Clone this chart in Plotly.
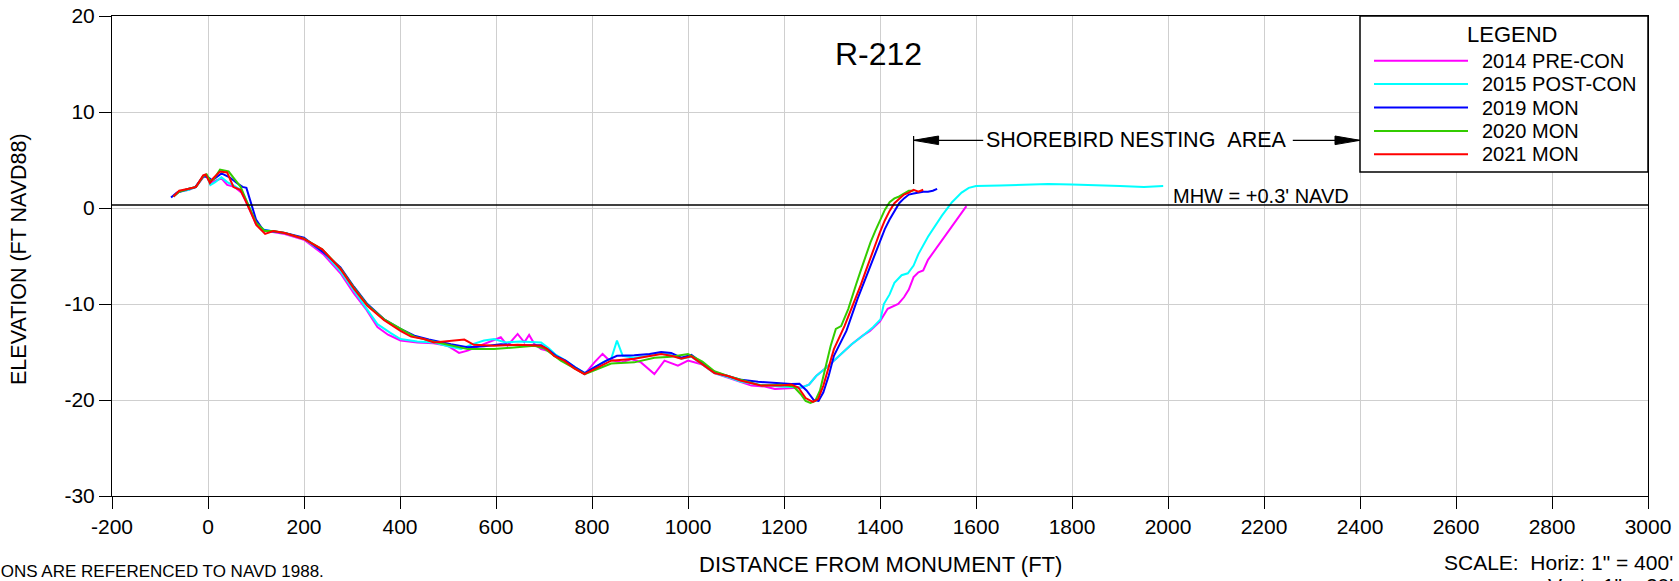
import plotly.graph_objects as go

# ---------------- data ----------------
series_names = ["2014 PRE-CON", "2015 POST-CON", "2019 MON", "2020 MON", "2021 MON"]
series_colors = ["#FF00FF", "#00FFFF", "#0000FF", "#33CC00", "#FF0000"]

x_2014 = [-72, -60, -40, -25, -10, -3, 5, 15, 28, 40, 55, 70, 80, 90, 100, 118, 135, 160, 200, 240,
          276, 304, 330, 353, 375, 401, 436, 470, 499, 523, 541, 568, 590, 610, 624, 645, 659, 669, 680, 694,
          710, 725, 745, 765, 785, 805, 822, 833, 861, 882, 902, 930, 951, 979, 1000, 1030, 1055, 1083, 1111, 1132,
          1160, 1181, 1200, 1237, 1252, 1267, 1289, 1319, 1341, 1364, 1379, 1400, 1416, 1438, 1450, 1460, 1470, 1480,
          1490, 1500, 1520, 1540, 1560, 1580]
y_2014 = [1.2, 1.7, 1.9, 2.2, 3.2, 3.4, 2.6, 2.8, 3.1, 2.4, 2.2, 1.6, 0.6, -0.5, -1.7, -2.4, -2.5, -2.7, -3.3, -4.8,
          -6.8, -8.9, -10.6, -12.4, -13.2, -13.8, -14.0, -14.1, -14.34, -15.1, -14.86, -14.34, -13.9, -13.47, -14.34, -13.12, -14.0, -13.23, -14.17, -14.69,
          -14.9, -15.5, -16.0, -16.7, -17.3, -16.08, -15.2, -15.73, -16.08, -15.73, -16.08, -17.29, -15.9, -16.42, -15.9, -16.3, -17.2, -17.7, -18.2, -18.5,
          -18.6, -18.85, -18.8, -18.7, -18.4, -17.5, -16.6, -15.2, -14.2, -13.3, -12.8, -11.8, -10.5, -10.0, -9.3, -8.5, -7.2, -6.7,
          -6.5, -5.4, -4.0, -2.7, -1.3, 0.2]

x_2015 = [-72, -60, -40, -25, -10, -3, 5, 15, 28, 40, 55, 70, 80, 90, 100, 118, 135, 160, 200, 240,
          276, 304, 330, 353, 380, 401, 436, 470, 500, 527, 550, 575, 596, 620, 650, 694, 710, 725, 745, 765,
          785, 805, 825, 840, 852, 864, 888, 920, 944, 965, 986, 1007, 1030, 1055, 1083, 1111, 1150, 1190, 1237, 1252,
          1267, 1289, 1319, 1341, 1364, 1386, 1401, 1408, 1420, 1430, 1445, 1458, 1470, 1480, 1500, 1529, 1550, 1570,
          1585, 1600, 1650, 1700, 1750, 1800, 1850, 1900, 1950, 1990]
y_2015 = [1.2, 1.7, 1.9, 2.2, 3.3, 3.4, 2.4, 2.7, 3.2, 2.7, 2.3, 1.8, 0.8, -0.4, -1.6, -2.3, -2.4, -2.6, -3.2, -4.6,
          -6.6, -8.6, -10.4, -12.1, -13.0, -13.65, -13.9, -14.0, -14.4, -14.69, -14.2, -13.8, -13.65, -14.0, -13.9, -14.0, -14.6, -15.3, -15.9, -16.6,
          -17.2, -16.6, -16.0, -15.7, -13.82, -15.4, -15.6, -15.4, -15.1, -15.3, -15.7, -15.5, -16.3, -17.2, -17.6, -18.1, -18.4, -18.6, -18.7, -18.4,
          -17.5, -16.6, -15.2, -14.2, -13.3, -12.4, -11.6, -10.0, -9.0, -7.8, -7.0, -6.8, -6.0, -4.8, -3.0, -0.8, 0.6, 1.6,
          2.1, 2.3, 2.35, 2.4, 2.5, 2.45, 2.4, 2.3, 2.2, 2.3]

x_2019 = [-77, -65, -40, -27, -10, 0, 8, 15, 28, 45, 60, 72, 80, 90, 100, 115, 135, 160, 200, 240,
          276, 304, 332, 367, 401, 430, 460, 506, 541, 575, 610, 650, 694, 710, 725, 745, 765, 785, 805, 830,
          852, 888, 920, 944, 965, 986, 1007, 1030, 1055, 1083, 1111, 1146, 1180, 1215, 1232, 1247, 1262, 1272, 1282, 1293,
          1304, 1330, 1353, 1365, 1380, 1390, 1400, 1410, 1420, 1430, 1440, 1450, 1460, 1470, 1480, 1490, 1500, 1510, 1519]
y_2019 = [1.1, 1.6, 2.0, 2.15, 3.3, 3.2, 2.9, 3.1, 3.6, 3.2, 2.6, 2.2, 2.1, 0.5, -1.2, -2.3, -2.4, -2.6, -3.1, -4.6,
          -6.2, -8.2, -10.0, -11.6, -12.6, -13.3, -13.7, -14.2, -14.5, -14.4, -14.2, -14.3, -14.3, -14.8, -15.4, -15.9, -16.6, -17.2, -16.6, -15.9,
          -15.4, -15.35, -15.2, -15.0, -15.1, -15.6, -15.3, -16.2, -17.1, -17.5, -17.9, -18.1, -18.2, -18.33, -18.3, -19.0, -20.0, -20.1, -19.2, -17.5,
          -15.4, -12.8, -9.5, -8.0, -6.0, -4.8, -3.5, -2.2, -1.2, -0.3, 0.5, 1.0, 1.4, 1.5, 1.6, 1.7, 1.7, 1.8, 2.0]

x_2020 = [-72, -60, -40, -25, -10, -3, 5, 12, 25, 43, 57, 68, 78, 88, 100, 118, 135, 160, 200, 238,
          276, 304, 332, 367, 401, 430, 460, 506, 541, 596, 640, 680, 700, 715, 735, 760, 785, 805, 840, 888,
          930, 965, 1000, 1030, 1055, 1083, 1111, 1153, 1194, 1220, 1235, 1245, 1255, 1265, 1275, 1285, 1297, 1308, 1319, 1334,
          1341, 1350, 1360, 1370, 1380, 1390, 1400, 1410, 1420, 1430, 1440, 1450, 1460, 1470]
y_2020 = [1.2, 1.7, 2.0, 2.2, 3.3, 3.5, 2.8, 3.0, 4.0, 3.8, 2.9, 2.2, 1.0, -0.1, -1.5, -2.4, -2.4, -2.6, -3.2, -4.3,
          -6.3, -8.3, -10.1, -11.6, -12.6, -13.4, -13.8, -14.3, -14.7, -14.7, -14.5, -14.34, -14.6, -15.2, -15.9, -16.6, -17.3, -16.9, -16.2, -16.08,
          -15.6, -15.5, -15.2, -16.0, -17.0, -17.5, -17.9, -18.5, -18.4, -18.6, -19.4, -20.1, -20.3, -20.1, -19.0, -17.0, -14.4, -12.6, -12.3, -10.5,
          -9.5, -8.0, -6.5, -5.0, -3.6, -2.4, -1.2, -0.2, 0.6, 1.0, 1.2, 1.5, 1.8, 1.8]

x_2021 = [-72, -60, -40, -25, -10, -5, 4, 11, 25, 40, 53, 67, 78, 87, 101, 119, 136, 160, 199, 238,
          276, 304, 332, 367, 401, 423, 450, 471, 506, 534, 554, 596, 645, 694, 707, 721, 742, 763, 784, 805,
          840, 888, 923, 944, 965, 986, 1007, 1028, 1055, 1083, 1111, 1153, 1194, 1215, 1230, 1245, 1260, 1271, 1282, 1293,
          1304, 1326, 1349, 1360, 1370, 1380, 1390, 1400, 1410, 1420, 1430, 1440, 1450, 1460, 1470, 1480, 1490]
y_2021 = [1.2, 1.8, 2.0, 2.2, 3.4, 3.5, 2.6, 3.1, 3.8, 3.7, 2.2, 1.9, 0.8, -0.2, -1.8, -2.7, -2.4, -2.6, -3.2, -4.3,
          -6.35, -8.4, -10.2, -11.7, -12.8, -13.4, -13.65, -14.0, -13.8, -13.7, -14.25, -14.35, -14.25, -14.35, -14.7, -15.4, -15.9, -16.7, -17.3, -16.8,
          -15.9, -15.7, -15.4, -15.2, -15.4, -15.7, -15.45, -16.25, -17.2, -17.5, -18.0, -18.5, -18.5, -18.4, -18.7, -19.8, -20.2, -19.9, -18.5, -16.6,
          -14.7, -12.3, -9.5, -8.0, -6.6, -5.2, -3.8, -2.5, -1.3, -0.3, 0.5, 1.0, 1.4, 1.6, 1.9, 1.7, 1.9]

series_x = [x_2014, x_2015, x_2019, x_2020, x_2021]
series_y = [y_2014, y_2015, y_2019, y_2020, y_2021]

x_tick_values = [-200, 0, 200, 400, 600, 800, 1000, 1200, 1400, 1600, 1800, 2000, 2200, 2400, 2600, 2800, 3000]
x_tick_labels = ["-200", "0", "200", "400", "600", "800", "1000", "1200", "1400", "1600", "1800",
                 "2000", "2200", "2400", "2600", "2800", "3000"]
y_tick_values = [-30, -20, -10, 0, 10, 20]
y_tick_labels = ["-30", "-20", "-10", "0", "10", "20"]

MHW = 0.3
nesting_start = 1470
nesting_end = 2400
nesting_y = 7.05

# ---------------- layout helpers ----------------
W, H = 1679, 581
OFF = 0                      # page offset of the plot div (body margin removed below)
L, T = 112, 16
PW, PH = 1536, 480
R, B = W - L - PW, H - T - PH
FONT = "Liberation Sans, Arial, sans-serif"


def px(xp):
    """target screen x (px) -> paper x"""
    return (xp - OFF - L) / PW


def py(yp):
    """target screen y (px) -> paper y"""
    return (T + PH - (yp - OFF)) / PH


fig = go.Figure()
for name, color, xs, ys in zip(series_names, series_colors, series_x, series_y):
    fig.add_trace(go.Scatter(x=xs, y=ys, mode="lines", name=name,
                             line=dict(color=color, width=2), showlegend=False))

axis_common = dict(showline=True, linecolor="black", linewidth=1, mirror=True,
                   ticks="outside", ticklen=12, tickcolor="black", tickwidth=1,
                   showgrid=True, gridcolor="#CFCFCF", gridwidth=1, zeroline=False,
                   automargin=False, ticklabeloverflow="allow",
                   tickfont=dict(family=FONT, size=21, color="black"))
fig.update_xaxes(range=[-200, 3000], tickvals=x_tick_values, ticktext=x_tick_labels, **axis_common)
fig.update_yaxes(range=[-30, 20], tickvals=y_tick_values, ticktext=y_tick_labels, **axis_common)

shapes = []
annotations = []

# MHW line
shapes.append(dict(type="line", xref="x", yref="y", x0=-200, x1=3000, y0=MHW, y1=MHW,
                   line=dict(color="black", width=1.5)))
annotations.append(dict(xref="x", yref="y", x=2381, y=1.25, text="MHW = +0.3' NAVD",
                        showarrow=False, xanchor="right", yanchor="middle",
                        font=dict(family=FONT, size=20, color="black")))

# Shorebird nesting area
shapes.append(dict(type="line", xref="x", yref="y", x0=nesting_start, x1=nesting_start, y0=2.5, y1=7.5,
                   line=dict(color="black", width=1.2)))
shapes.append(dict(type="line", xref="x", yref="y", x0=nesting_start, x1=1615, y0=nesting_y, y1=nesting_y,
                   line=dict(color="black", width=1.2)))
shapes.append(dict(type="line", xref="x", yref="y", x0=2260, x1=nesting_end, y0=nesting_y, y1=nesting_y,
                   line=dict(color="black", width=1.2)))
shapes.append(dict(type="path", xref="x", yref="y", xsizemode="pixel", ysizemode="pixel",
                   xanchor=nesting_start, yanchor=nesting_y, path="M0,0 L25,4.3 L25,-4.3 Z",
                   fillcolor="black", line=dict(color="black", width=1)))
shapes.append(dict(type="path", xref="x", yref="y", xsizemode="pixel", ysizemode="pixel",
                   xanchor=nesting_end, yanchor=nesting_y, path="M0,0 L-25,4.3 L-25,-4.3 Z",
                   fillcolor="black", line=dict(color="black", width=1)))
annotations.append(dict(xref="x", yref="y", x=1935, y=nesting_y, text="SHOREBIRD NESTING\u00a0\u00a0AREA",
                        showarrow=False, xanchor="center", yanchor="middle",
                        font=dict(family=FONT, size=21.5, color="black")))

# Title
annotations.append(dict(xref="paper", yref="paper", x=px(878), y=py(54), text="R-212",
                        showarrow=False, xanchor="center", yanchor="middle",
                        font=dict(family=FONT, size=32, color="black")))

# Axis titles
annotations.append(dict(xref="paper", yref="paper", x=px(19), y=py(259), text="ELEVATION (FT NAVD88)",
                        textangle=-90, showarrow=False, xanchor="center", yanchor="middle",
                        font=dict(family=FONT, size=21.5, color="black")))
annotations.append(dict(xref="paper", yref="paper", x=px(880), y=py(564), text="DISTANCE FROM MONUMENT (FT)",
                        showarrow=False, xanchor="center", yanchor="middle",
                        font=dict(family=FONT, size=22, color="black")))

# Notes
annotations.append(dict(xref="paper", yref="paper", x=px(325.5), y=py(571),
                        text="ALL ELEVATIONS ARE REFERENCED TO NAVD 1988.",
                        showarrow=False, xanchor="right", yanchor="middle",
                        font=dict(family=FONT, size=17, color="black")))
annotations.append(dict(xref="paper", yref="paper", x=px(1675), y=py(562),
                        text="SCALE:\u00a0\u00a0Horiz: 1\" = 400'",
                        showarrow=False, xanchor="right", yanchor="middle",
                        font=dict(family=FONT, size=21, color="black")))
annotations.append(dict(xref="paper", yref="paper", x=px(1675), y=py(585),
                        text="Vert:\u00a0\u00a01\" = 20'",
                        showarrow=False, xanchor="right", yanchor="middle",
                        font=dict(family=FONT, size=21, color="black")))

# Legend box (drawn manually to match the long sample lines)
shapes.append(dict(type="rect", xref="paper", yref="paper", x0=px(1360), x1=px(1648), y0=py(172), y1=py(16),
                   fillcolor="white", line=dict(color="black", width=1.5), layer="above"))
annotations.append(dict(xref="paper", yref="paper", x=px(1512), y=py(35), text="LEGEND",
                        showarrow=False, xanchor="center", yanchor="middle",
                        font=dict(family=FONT, size=22, color="black")))
row_y = [60.7, 84.0, 107.5, 131.0, 154.3]
for name, color, ry in zip(series_names, series_colors, row_y):
    shapes.append(dict(type="line", xref="paper", yref="paper", x0=px(1374), x1=px(1468),
                       y0=py(ry), y1=py(ry), line=dict(color=color, width=2), layer="above"))
    annotations.append(dict(xref="paper", yref="paper", x=px(1480), y=py(ry), text=name,
                            showarrow=False, xanchor="left", yanchor="middle",
                            font=dict(family=FONT, size=20, color="black")))

fig.update_layout(width=W, height=H, margin=dict(l=L, r=R, t=T, b=B, pad=0, autoexpand=False),
                  paper_bgcolor="white", plot_bgcolor="white",
                  shapes=shapes, annotations=annotations,
                  font=dict(family=FONT, color="black"))

fig.write_html("out.html", config={"displayModeBar": False},
               post_script="document.body.style.margin='0px';document.body.style.overflow='hidden';")
